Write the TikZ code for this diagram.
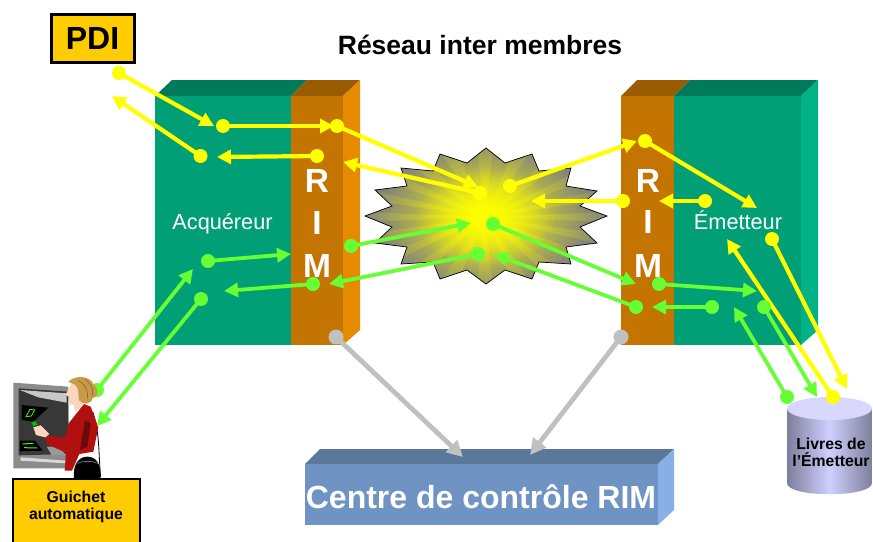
\documentclass[tikz,border=0pt]{standalone}
\usepackage{fontspec}
\setmainfont{Liberation Sans}
\usetikzlibrary{arrows.meta,fadings,shadings}
\definecolor{gfront}{HTML}{009F75}
\definecolor{gtop}{HTML}{007A5A}
\definecolor{gside}{HTML}{00B386}
\definecolor{ofront}{HTML}{C47400}
\definecolor{otop}{HTML}{9A5C00}
\definecolor{oside}{HTML}{E68A00}
\definecolor{bfront}{HTML}{6F93C2}
\definecolor{btop}{HTML}{5A7898}
\definecolor{bside}{HTML}{88B0E6}
\definecolor{flowy}{HTML}{FFFF00}
\definecolor{flowg}{HTML}{66FF33}
\definecolor{flowk}{HTML}{C0C0C0}
\definecolor{goldbox}{HTML}{FFCC00}
\definecolor{cylside}{HTML}{7E7E9C}
\definecolor{cylmid}{HTML}{D0D0FF}
\definecolor{cyltop}{HTML}{D8D8FF}
\definecolor{skin}{HTML}{FBD5BE}
\definecolor{hair}{HTML}{C89B4B}
\definecolor{jacket}{HTML}{B01010}
\definecolor{stargray}{HTML}{808080}
\tikzfading[name=ringfade,inner color=transparent!100,outer color=transparent!0]
\tikzfading[name=corefade,inner color=transparent!0,outer color=transparent!100]
\tikzset{
  ydot/.style={circle,fill=flowy,inner sep=0pt,minimum size=14pt},
  gdot/.style={circle,fill=flowg,inner sep=0pt,minimum size=14pt},
  kdot/.style={circle,fill=flowk,inner sep=0pt,minimum size=15pt},
  yflow/.style={draw=flowy,line width=4.2pt,-{Triangle[length=14pt,width=14pt]}},
  gflow/.style={draw=flowg,line width=3.8pt,-{Triangle[length=14pt,width=14pt]}},
  kflow/.style={draw=flowk,line width=4.8pt,-{Triangle[length=16pt,width=16pt]}},
  letter/.style={text=white,font=\bfseries\fontsize{33.5}{34}\selectfont,inner sep=0pt,anchor=base},
  lbl/.style={text=white,font=\fontsize{21.7}{24}\selectfont,inner sep=0pt,anchor=base},
  goldnode/.style={draw=black,fill=goldbox,inner sep=0pt},
  smallbold/.style={font=\bfseries\fontsize{15.8}{17.5}\selectfont,inner sep=0pt,align=center},
}
\newcommand{\starpath}{(365,216) -- (392,206) -- (375,190) -- (407,186) -- (401,168) -- (433,171) -- (440,154) -- (467,163) -- (486,148) -- (505,163) -- (532,154) -- (539,171) -- (571,168) -- (566,186) -- (597,191) -- (580,206) -- (607,216) -- (580,227) -- (597,243) -- (566,247) -- (571,264) -- (539,262) -- (532,279) -- (505,270) -- (486,284) -- (467,270) -- (440,279) -- (433,262) -- (401,264) -- (407,247) -- (375,243) -- (392,227) -- cycle}
\begin{document}
\begin{tikzpicture}[x=1pt,y=-1pt]
\useasboundingbox (0,0) rectangle (873,541);
\clip (0,0) rectangle (873,541);

% left block
\fill[gtop] (155,96) -- (172,80) -- (307,80) -- (291,96) -- cycle;
\fill[otop] (291,96) -- (307,80) -- (360,80) -- (343,96) -- cycle;
\fill[oside] (343,96) -- (360,80) -- (360,330) -- (343,345) -- cycle;
\fill[gfront] (155,96) rectangle (291,345);
\fill[ofront] (291,96) rectangle (343,345);
% right block
\fill[otop] (621,96) -- (637,80) -- (690,80) -- (674,96) -- cycle;
\fill[gtop] (674,96) -- (690,80) -- (818,80) -- (801,96) -- cycle;
\fill[gside] (801,96) -- (818,80) -- (818,330) -- (801,345) -- cycle;
\fill[ofront] (621,96) rectangle (674,345);
\fill[gfront] (674,96) rectangle (801,345);

% bottom block
\fill[btop] (305,464) -- (320,449) -- (674,449) -- (658,464) -- cycle;
\fill[bside] (658,464) -- (674,449) -- (674,510) -- (658,525) -- cycle;
\fill[bfront] (305,464) rectangle (658,525);
\node[text=white,font=\bfseries\fontsize{32}{36}\selectfont,inner sep=0pt] (centre) at (481,497) {Centre de contrôle RIM};

% starburst
\begin{scope}
  \clip \starpath;
  \fill[stargray] (350,140) rectangle (620,290);
  \foreach \a in {0,18,...,342}{
    \fill[flowy!60!stargray,opacity=0.5] (485,217) -- ({485+120*cos(\a-4)},{217+70*sin(\a-4)}) -- ({485+120*cos(\a+4)},{217+70*sin(\a+4)}) -- cycle;
  }
  \fill[stargray,path fading=ringfade] (485,217) ellipse (190 and 110);
  \fill[flowy,path fading=corefade] (485,217) ellipse (110 and 75);
  \fill[flowy,path fading=corefade] (485,217) ellipse (70 and 50);
\end{scope}
\draw[black,line width=0.7pt] \starpath;

% texts
\node[font=\bfseries\fontsize{26.5}{30}\selectfont,inner sep=0pt] (title) at (480,45) {Réseau inter membres};
\node[goldnode,line width=3pt,minimum width=83pt,minimum height=48pt,font=\bfseries\fontsize{32}{34}\selectfont] (pdi) at (92.5,38) {PDI};
\node[lbl] (acq) at (222.5,229) {Acquéreur};
\node[lbl] (emt) at (738,229) {Émetteur};
\node[letter] (r1) at (317,192) {R};
\node[letter] (i1) at (317,234) {I};
\node[letter] (m1) at (317,277) {M};
\node[letter] (r2) at (648,192) {R};
\node[letter] (i2) at (648,233) {I};
\node[letter] (m2) at (648,277) {M};

% cylinder
\shade[left color=cylside,right color=cylside,middle color=cylmid] (787,408) -- (787,483) .. controls (787,498) and (872,498) .. (872,483) -- (872,408) -- cycle;
\fill[cyltop] (829.5,408.5) ellipse (42.5 and 11.5);
\node[smallbold] (livres) at (831,452.5) {Livres de\\l’Émetteur};

% ATM and customer
\begin{scope}[x=0.33333pt,y=-0.33333pt,shift={(0pt,-340pt)}]
  \fill[black!45] (40,128) -- (205,140) -- (205,385) -- (40,385) -- cycle;
  \fill[black!78] (56,145) -- (205,155) -- (205,342) -- (56,346) -- cycle;
  \fill[black!22] (60,150) -- (200,160) -- (200,188) -- (115,172) -- cycle;
  \fill[black] (65,195) -- (145,203) -- (100,245) -- (65,240) -- cycle;
  \draw[green!70!yellow,line width=0.8pt] (78,230) -- (90,208) -- (104,210) -- (94,228) -- cycle;
  \fill[black] (60,302) -- (105,302) -- (128,332) -- (60,334) -- cycle;
  \draw[green!70!yellow,line width=1pt] (68,312) -- (100,310) (72,323) -- (112,324);
  \fill[black!40] (140,320) -- (175,320) -- (198,345) -- (155,345) -- cycle;
  \fill[black!15] (62,352) -- (200,362) -- (200,370) -- (62,362) -- cycle;
  % strap
  \draw[black,line width=0.8pt] (278,215) .. controls (300,280) and (295,340) .. (302,412);
  % jacket
  \fill[jacket] (252,192) -- (272,200) -- (295,262) -- (280,335) -- (238,342) -- (216,392) -- (194,392) -- (198,338) -- (140,312) -- (136,286) -- (195,292) -- (206,250) -- cycle;
  \fill[jacket!60!black] (255,240) -- (272,250) -- (262,320) -- (240,330) -- cycle;
  % hand, card
  \fill[skin] (100,262) -- (122,256) -- (148,282) -- (136,292) -- (108,285) -- cycle;
  \fill[green!75!black] (94,248) -- (106,243) -- (112,254) -- (100,258) -- cycle;
  % face and neck
  \fill[skin] (215,130) -- (240,135) -- (250,195) -- (225,215) -- (222,195) -- (205,192) -- (208,170) -- (196,165) -- cycle;
  % bag
  \fill[black] (222,415) .. controls (218,375) and (235,350) .. (262,350) .. controls (290,350) and (305,375) .. (300,415) -- cycle;
  \draw[black!55,line width=0.8pt] (232,370) .. controls (250,362) and (275,362) .. (294,370);
\end{scope}

% guichet label
\node[goldnode,line width=2.6pt,minimum width=127pt,minimum height=70pt] (guichet) at (76.5,514) {};
\node[smallbold] (guichettxt) at (76,507) {Guichet\\automatique};

% gray connectors
\foreach \n/\sx/\sy/\ex/\ey in {a/336/337/463/457,b/621/337/530/455}{
  \node[kdot] (k\n) at (\sx,\sy) {};
  \coordinate (k\n e) at (\ex,\ey);
  \draw[kflow] (k\n.center) -- (k\n e);
}
% yellow flows
\foreach \n/\sx/\sy/\ex/\ey in {
  a/119/73/214/126, b/200.5/156/112/96, c/223/126/334/126, d/317/156/217/157,
  e/337/126/478/187, f/480/193/343/162, g/510/186/637/141, h/645/141/757/208,
  i/623/201/531/201, j/705/201/659/201, k/772/239/847/389, l/833/397/727/239}{
  \node[ydot] (y\n) at (\sx,\sy) {};
  \coordinate (y\n e) at (\ex,\ey);
  \draw[yflow] (y\n.center) -- (y\n e);
}
% green flows
\foreach \n/\sx/\sy/\ex/\ey in {
  a/208/261/291/254, b/313/284/224/291, c/201/299/97/426, d/97/390/193/269,
  e/351/246/471/223, f/478/254/329/284, g/493/224/636/284, h/636/307/494/254,
  i/659/284/757/291, j/712/307/652/307, k/764/307/817/397, l/787/397/734/307}{
  \node[gdot] (g\n) at (\sx,\sy) {};
  \coordinate (g\n e) at (\ex,\ey);
  \draw[gflow] (g\n.center) -- (g\n e);
}
% customer's hair, in front of the green end point
\begin{scope}[x=0.33333pt,y=-0.33333pt,shift={(0pt,-340pt)}]
  \fill[hair] (205,125) .. controls (225,105) and (270,105) .. (282,135) .. controls (300,150) and (295,170) .. (278,175) .. controls (270,195) and (250,195) .. (238,182) .. controls (232,160) and (240,150) .. (226,135) -- cycle;
  \draw[hair!60!black,line width=0.5pt] (235,122) .. controls (255,130) and (265,150) .. (262,175) (255,118) .. controls (275,130) and (282,150) .. (276,170);
\end{scope}
\end{tikzpicture}
\end{document}
